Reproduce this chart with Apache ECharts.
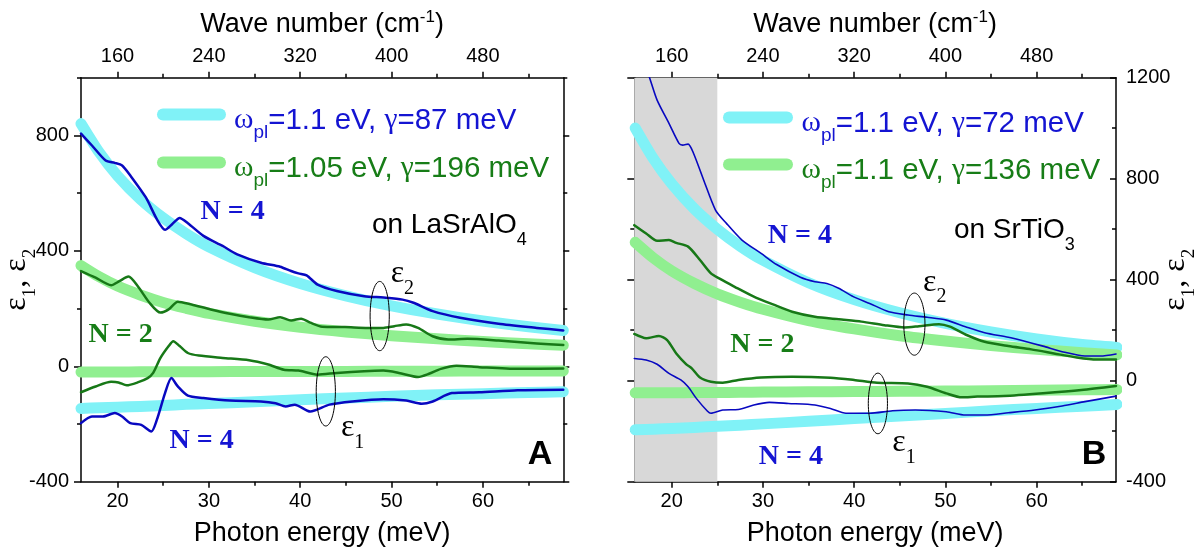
<!DOCTYPE html>
<html><head><meta charset="utf-8">
<script src="https://cdn.jsdelivr.net/npm/echarts@6/dist/echarts.min.js"></script>
<style>html,body{margin:0;padding:0;background:#fff}#c{width:1204px;height:554px}</style>
</head><body><div id="c"></div>
<script>
// ---------------- data ----------------
const xRangeA = [16, 68.8];
const xRangeB = [15.9, 68.7];
const yRangeA = [-400, 1000];
const yRangeB = [-400, 1200];
const xTicksMajor = [20, 30, 40, 50, 60];
const xTicksMinor = [25, 35, 45, 55, 65];
const topTicksMajor = [160, 240, 320, 400, 480];
const topTicksMinor = [200, 280, 360, 440, 520];
const yTicksA = [-400, 0, 400, 800];
const yMinorA = [-200, 200, 600, 1000];
const yTicksB = [-400, 0, 400, 800, 1200];
const yMinorB = [-200, 200, 600, 1000];
const cmPerMeV = 8;
const greyBandB = [15.9, 25];

// Drude-fit bands
const fitX = [16, 18, 20, 22.5, 25, 27.5, 30, 35, 40, 45, 50, 55, 60, 65, 68.8];
const fitA4_e2 = [841, 741, 660, 579, 514, 460, 414, 342, 287, 244, 209, 181, 157, 137, 124];
const fitA4_e1 = [-146, -144, -142, -139, -136, -132, -129, -123, -116, -110, -104, -99, -95, -91, -88];
const fitA2_e2 = [349, 310, 278, 247, 221, 201, 183, 156, 135, 119, 106, 95, 86, 78, 73];
const fitA2_e1 = [-20, -20, -20, -19, -19, -19, -19, -18, -18, -18, -17, -17, -16, -16, -16];
const fitB4_e2 = [1001, 879, 780, 680, 600, 533, 477, 388, 321, 269, 227, 193, 165, 143, 132];
const fitB4_e1 = [-194, -192, -189, -185, -180, -176, -171, -161, -150, -140, -130, -119, -110, -101, -94];
const fitB2_e2 = [548, 486, 435, 385, 344, 311, 283, 238, 205, 178, 157, 139, 124, 111, 102];
const fitB2_e1 = [-48, -48, -48, -47, -47, -46, -45, -44, -43, -42, -41, -40, -38, -36, -35];

// measured curves  [meV, value]
const A_N4_e2 = [[16,806],[17.2,765],[18.7,713],[19.7,705],[20.5,696],[21.4,661],[23.1,585],[24.3,510],[25.2,473],[26.0,493],[26.8,514],[27.7,496],[29.4,452],[31.5,417],[33.1,388],[35.7,359],[37.8,345],[39.0,330],[39.8,322],[40.7,315],[41.9,283],[44.0,261],[47.0,243],[49.1,238],[51.2,231],[52.4,220],[54.5,191],[57.5,168],[61.7,147],[65.9,133],[68.8,124]];
const A_N2_e2 = [[16,330],[17.6,307],[19.3,281],[20.2,295],[21.2,311],[22.2,278],[23.5,220],[24.7,186],[25.6,197],[26.6,224],[28.1,214],[30.2,197],[32.3,182],[34.4,170],[36.5,162],[37.8,170],[39.0,159],[40.1,165],[41.1,151],[42.4,137],[44.9,136],[47.4,133],[49.1,133],[50.3,139],[51.6,145],[52.9,133],[54.5,104],[56.2,93],[58.3,95],[61.7,89],[65.9,79],[68.8,74]];
const A_N2_e1 = [[16,-90],[17.6,-70],[19.3,-54],[20.1,-56],[21.0,-66],[22.2,-56],[23.3,-41],[23.9,-23],[24.7,29],[25.6,70],[26.1,87],[26.8,70],[27.7,46],[28.9,37],[31.5,29],[34.4,21],[36.5,6],[38.2,-12],[39.8,-15],[41.9,-29],[44.0,-23],[47.0,-17],[49.1,-15],[50.8,-23],[52.9,-37],[54.1,-26],[55.4,-9],[57.1,2],[59.6,-3],[63.8,-9],[68.8,-8]];
const A_N4_e1 = [[16,-197],[17.2,-174],[18.4,-174],[19.7,-162],[20.5,-174],[21.4,-197],[22.6,-203],[23.7,-226],[24.3,-186],[25.2,-93],[25.9,-41],[26.6,-70],[27.7,-102],[29.4,-110],[32.3,-119],[35.7,-122],[37.3,-128],[38.4,-139],[39.4,-133],[41.1,-157],[43.2,-133],[45.7,-122],[49.1,-114],[51.6,-119],[53.3,-130],[54.5,-122],[56.6,-93],[59.6,-90],[63.8,-83],[68.8,-81]];
const B_N4_e2 = [[15.9,1380],[17.6,1197],[18.4,1111],[19.7,1019],[20.8,940],[21.2,933],[21.8,937],[22.4,900],[23.5,795],[24.8,676],[26.0,623],[27.7,557],[29.8,504],[31.5,460],[34.1,410],[35.7,392],[37.0,385],[38.3,366],[39.9,333],[41.7,306],[43.8,273],[45.9,260],[48.0,251],[50.1,240],[52.2,214],[54.3,190],[56.9,172],[58.5,158],[60.7,137],[62.8,115],[65.3,98],[67.0,98],[68.7,106]];
const B_N2_e2 = [[15.9,616],[17.2,583],[18.4,554],[19.7,557],[20.5,546],[21.8,531],[23.1,478],[24.3,425],[25.2,405],[26.9,372],[29.0,333],[31.1,302],[33.2,273],[35.7,253],[38.3,243],[40.8,234],[43.3,220],[45.5,211],[47.1,216],[49.3,224],[50.5,214],[52.2,183],[54.3,154],[56.9,137],[59.4,124],[61.9,108],[64.4,92],[66.6,84],[68.7,84]];
const B_N2_e1 = [[15.9,185],[17.2,168],[18.6,177],[19.5,161],[20.5,108],[21.6,65],[22.2,49],[23.1,13],[24.3,-4],[25.6,-8],[27.3,3],[29.8,13],[33.2,16],[37.4,12],[40.0,3],[42.5,-8],[45.9,-11],[48.0,-24],[50.1,-50],[51.8,-66],[53.5,-63],[56.4,-61],[60.7,-50],[64.9,-37],[68.7,-21]];
const B_N4_e1 = [[15.9,88],[17.2,82],[18.4,65],[19.7,29],[21.0,3],[21.8,-24],[22.7,-70],[23.9,-120],[24.3,-129],[25.6,-116],[27.3,-114],[29.0,-96],[30.7,-86],[32.8,-90],[35.7,-96],[37.4,-110],[39.1,-129],[41.7,-129],[44.2,-119],[46.7,-116],[50.1,-123],[52.2,-136],[54.3,-136],[56.9,-127],[59.8,-116],[62.8,-100],[65.3,-83],[68.7,-61]];

// ellipses [x, y, half-width (meV), half-height (value)]
const ellipsesA = [[48.7, 174, 1.05, 120], [42.8, -87, 1.05, 120]];
const ellipsesB = [[46.6, 224, 1.16, 123], [42.6, -90, 1.05, 120]];

// text annotations
const annotA = [
  {x: 32.6, y: 536, t: 'N = 4', kind: 'N', c: 'blue', al: 'center'},
  {x: 47.85, y: 489, t: 'on LaSrAlO{s4|4}', kind: 'sans', c: 'black', al: 'left'},
  {x: 49.9, y: 321, t: 'ε{s|2}', kind: 'eps', c: 'black', al: 'left'},
  {x: 20.34, y: 110, t: 'N = 2', kind: 'N', c: 'green', al: 'center'},
  {x: 44.45, y: -214, t: 'ε{s|1}', kind: 'eps', c: 'black', al: 'left'},
  {x: 29.2, y: -257, t: 'N = 4', kind: 'N', c: 'blue', al: 'center'},
  {x: 66.25, y: -305, t: 'A', kind: 'big', c: 'black', al: 'center'}
];
const annotB = [
  {x: 34.05, y: 573, t: 'N = 4', kind: 'N', c: 'blue', al: 'center'},
  {x: 50.93, y: 597, t: 'on SrTiO{s4|3}', kind: 'sans', c: 'black', al: 'left'},
  {x: 47.55, y: 390, t: 'ε{s|2}', kind: 'eps', c: 'black', al: 'left'},
  {x: 29.93, y: 141, t: 'N = 2', kind: 'N', c: 'green', al: 'center'},
  {x: 44.18, y: -247, t: 'ε{s|1}', kind: 'eps', c: 'black', al: 'left'},
  {x: 33.06, y: -303, t: 'N = 4', kind: 'N', c: 'blue', al: 'center'},
  {x: 66.3, y: -292, t: 'B', kind: 'big', c: 'black', al: 'center'}
];

const legendLabels = {
  fitA4: '{g0|ω}{s|pl}{n|=1.1 eV, }{g|γ}{n|=87 meV}',
  fitA2: '{g0|ω}{s|pl}{n|=1.05 eV, }{g|γ}{n|=196 meV}',
  fitB4: '{g0|ω}{s|pl}{n|=1.1 eV, }{g|γ}{n|=72 meV}',
  fitB2: '{g0|ω}{s|pl}{n|=1.1 eV, }{g|γ}{n|=136 meV}'
};

// ---------------- styles ----------------
const SANS = '"Liberation Sans", Arial, sans-serif';
const SERIF = '"Liberation Serif", "Times New Roman", serif';
const COL = {
  blue: '#1414d2', green: '#177d17', black: '#000',
  lineBlue: '#0808c0', lineGreen: '#177817', cyan: '#80f2f7', lgreen: '#90ef90', grey: '#d8d8d8'
};

const grids = [
  {left: 81, top: 77.7, width: 482.3, height: 404, containLabel: false, outerBoundsMode: 'none'},
  {left: 634.3, top: 77.7, width: 481.7, height: 404, containLabel: false, outerBoundsMode: 'none'}
];

function axis(o) {
  const a = {
    type: 'value', gridIndex: o.g, position: o.pos, min: o.min, max: o.max,
    splitLine: {show: false}, splitArea: {show: false},
    axisLine: {show: !!o.line, onZero: false, lineStyle: {color: '#000', width: 1.5}},
    axisTick: {show: true, customValues: o.ticks, length: o.len, inside: !!o.inside,
               lineStyle: {color: '#000', width: 1.5}},
    axisLabel: o.labels ? {show: true, customValues: o.labels, fontSize: 20, fontFamily: SANS,
                           color: '#000', margin: o.margin || 10, formatter: v => String(v)} : {show: false},
    axisPointer: {show: false},
    nameMoveOverlap: false
  };
  if (o.extra) Object.assign(a, o.extra);
  return a;
}

const nameRichX = {
  n: {fontSize: 27, fontFamily: SANS, lineHeight: 32, color: '#000'},
  u: {fontSize: 17, fontFamily: SANS, lineHeight: 16, padding: [0, 0, 14, 0], color: '#000'}
};
const nameRichY = {
  e: {fontSize: 32, fontFamily: SERIF, lineHeight: 36, color: '#000'},
  s: {fontSize: 19, fontFamily: SERIF, lineHeight: 18, padding: [26, 0, 0, 0], color: '#000'}
};
const topName = {name: '{n|Wave number (cm}{u|-1}{n|)}', nameLocation: 'middle', nameGap: 37,
                 nameTextStyle: {rich: nameRichX}};
const botName = {name: '{n|Photon energy (meV)}', nameLocation: 'middle', nameGap: 36,
                 nameTextStyle: {rich: nameRichX}};
const yName = {name: '{e|ε}{s|1}{e|, ε}{s|2}', nameLocation: 'middle', nameRotate: 90,
               nameTextStyle: {rich: nameRichY}};

const xAxes = [];
const yAxes = [];
[[0, xRangeA], [1, xRangeB]].forEach(([g, xr]) => {
  xAxes.push(axis({g, pos: 'bottom', min: xr[0], max: xr[1], line: true, ticks: xTicksMajor, len: 6,
                   labels: xTicksMajor, margin: 10, extra: botName}));
  xAxes.push(axis({g, pos: 'bottom', min: xr[0], max: xr[1], ticks: xTicksMinor, len: 4}));
  xAxes.push(axis({g, pos: 'top', min: xr[0] * cmPerMeV, max: xr[1] * cmPerMeV, line: true,
                   ticks: topTicksMajor, len: 6, labels: topTicksMajor, margin: 11, extra: topName}));
  xAxes.push(axis({g, pos: 'top', min: xr[0] * cmPerMeV, max: xr[1] * cmPerMeV, ticks: topTicksMinor, len: 4}));
});
// panel A y axes
yAxes.push(axis({g: 0, pos: 'left', min: yRangeA[0], max: yRangeA[1], line: true, ticks: yTicksA, len: 7,
                 labels: yTicksA, margin: 12, extra: Object.assign({nameGap: 46}, yName)}));
yAxes.push(axis({g: 0, pos: 'left', min: yRangeA[0], max: yRangeA[1], ticks: yMinorA, len: 4}));
yAxes.push(axis({g: 0, pos: 'right', min: yRangeA[0], max: yRangeA[1], line: true, ticks: yTicksA, len: 6}));
yAxes.push(axis({g: 0, pos: 'right', min: yRangeA[0], max: yRangeA[1], ticks: yMinorA, len: 4}));
// panel B y axes
yAxes.push(axis({g: 1, pos: 'left', min: yRangeB[0], max: yRangeB[1], line: true, ticks: yTicksB, len: 7}));
yAxes.push(axis({g: 1, pos: 'left', min: yRangeB[0], max: yRangeB[1], ticks: yMinorB, len: 4}));
yAxes.push(axis({g: 1, pos: 'right', min: yRangeB[0], max: yRangeB[1], line: true, ticks: yTicksB, len: 6,
                 inside: true, labels: yTicksB, margin: 10, extra: Object.assign({nameGap: 42}, yName)}));
yAxes.push(axis({g: 1, pos: 'right', min: yRangeB[0], max: yRangeB[1], ticks: yMinorB, len: 4, inside: true}));

const zip = (xs, ys) => xs.map((x, i) => [x, ys[i]]);

function line(name, data, g, color, width, z) {
  return {
    type: 'line', name, data, xAxisIndex: g * 4, yAxisIndex: g * 4, showSymbol: false, symbol: 'none',
    smooth: 0.25, color, lineStyle: {color, width, cap: 'round', join: 'round'}, z, silent: true,
    animation: false, clip: true
  };
}

function ellipseSeries(g, data) {
  return {
    type: 'custom', xAxisIndex: g * 4, yAxisIndex: g * 4, data, z: 5, silent: true, animation: false,
    clip: false,
    renderItem: (params, api) => {
      const c = api.coord([api.value(0), api.value(1)]);
      const s = api.size([api.value(2), api.value(3)]);
      return {type: 'ellipse', shape: {cx: c[0], cy: c[1], rx: s[0], ry: s[1]},
              style: {fill: null, stroke: '#000', lineWidth: 1}};
    }
  };
}

const annRich = {
  s: {fontSize: 20, fontFamily: SERIF, lineHeight: 20, padding: [30, 0, 0, 0]},
  s4: {fontSize: 18, fontFamily: SANS, lineHeight: 18, padding: [30, 0, 0, 0]}
};
function textStyleFor(a) {
  const base = {text: a.t, fill: COL[a.c], align: a.al, verticalAlign: 'middle', rich: annRich};
  if (a.kind === 'N') Object.assign(base, {fontSize: 28, fontFamily: SERIF, fontWeight: 'bold'});
  if (a.kind === 'sans') Object.assign(base, {fontSize: 28, fontFamily: SANS});
  if (a.kind === 'eps') Object.assign(base, {fontSize: 32, fontFamily: SERIF});
  if (a.kind === 'big') Object.assign(base, {fontSize: 34, fontFamily: SANS, fontWeight: 'bold'});
  return base;
}
function textSeries(g, list) {
  return {
    type: 'custom', xAxisIndex: g * 4, yAxisIndex: g * 4, data: list.map(a => [a.x, a.y]), z: 6,
    silent: true, animation: false, clip: false,
    renderItem: (params, api) => {
      const a = list[params.dataIndex];
      const c = api.coord([a.x, a.y]);
      return {type: 'text', x: c[0], y: c[1], style: textStyleFor(a)};
    }
  };
}

const bandSeries = {
  type: 'custom', xAxisIndex: 4, yAxisIndex: 4, data: [greyBandB], z: 1, silent: true, animation: false,
  renderItem: (params, api) => {
    const p0 = api.coord([api.value(0), yRangeB[1]]);
    const p1 = api.coord([api.value(1), yRangeB[0]]);
    return {type: 'rect', shape: {x: p0[0], y: p0[1], width: p1[0] - p0[0], height: p1[1] - p0[1]},
            style: {fill: COL.grey}};
  }
};

const FITW = 11;
const series = [
  bandSeries,
  line('fitA4', zip(fitX, fitA4_e2), 0, COL.cyan, FITW, 2),
  line('fitA4', zip(fitX, fitA4_e1), 0, COL.cyan, FITW, 2),
  line('fitA2', zip(fitX, fitA2_e2), 0, COL.lgreen, FITW, 2),
  line('fitA2', zip(fitX, fitA2_e1), 0, COL.lgreen, FITW, 2),
  line('A N4 e2', A_N4_e2, 0, COL.lineBlue, 2.5, 3),
  line('A N4 e1', A_N4_e1, 0, COL.lineBlue, 2.5, 3),
  line('A N2 e2', A_N2_e2, 0, COL.lineGreen, 2.5, 3),
  line('A N2 e1', A_N2_e1, 0, COL.lineGreen, 2.5, 3),
  line('fitB4', zip(fitX, fitB4_e2), 1, COL.cyan, FITW, 2),
  line('fitB4', zip(fitX, fitB4_e1), 1, COL.cyan, FITW, 2),
  line('fitB2', zip(fitX, fitB2_e2), 1, COL.lgreen, FITW, 2),
  line('fitB2', zip(fitX, fitB2_e1), 1, COL.lgreen, FITW, 2),
  line('B N2 e2', B_N2_e2, 1, COL.lineGreen, 2.5, 3),
  line('B N2 e1', B_N2_e1, 1, COL.lineGreen, 2.5, 3),
  line('B N4 e2', B_N4_e2, 1, COL.lineBlue, 1.6, 3),
  line('B N4 e1', B_N4_e1, 1, COL.lineBlue, 1.6, 3),
  ellipseSeries(0, ellipsesA),
  ellipseSeries(1, ellipsesB),
  textSeries(0, annotA),
  textSeries(1, annotB)
];

const legRich = {
  n: {fontSize: 29.5, fontFamily: SANS, lineHeight: 32, padding: [12, 0, 0, 0]},
  g: {fontSize: 29.5, fontFamily: SERIF, lineHeight: 32, padding: [12, 0, 0, 0]},
  g0: {fontSize: 29.5, fontFamily: SERIF, lineHeight: 32, padding: [12, 0, 0, 3]},
  s: {fontSize: 19, fontFamily: SANS, lineHeight: 18, padding: [36, 0, 0, 0]}
};
const LEG_H = 54;
const ICON = 'path://M6,0H64A6,6,0,0,1,64,12H6A6,6,0,0,1,6,0Z';
function legendFor(name, left, iconY, width, color) {
  return {
    data: [name], left, top: iconY - LEG_H / 2, padding: 0, itemWidth: width, itemHeight: 12,
    icon: ICON, selectedMode: false, itemStyle: {borderWidth: 0},
    formatter: n => legendLabels[n],
    textStyle: {color, rich: legRich, fontSize: 29.5, fontFamily: SANS}
  };
}

const option = {
  backgroundColor: '#fff',
  animation: false,
  grid: grids,
  xAxis: xAxes,
  yAxis: yAxes,
  legend: [
    legendFor('fitA4', 157, 114, 69, COL.blue),
    legendFor('fitA2', 157, 162, 69, COL.green),
    legendFor('fitB4', 723, 117, 71, COL.blue),
    legendFor('fitB2', 723, 164, 71, COL.green)
  ],
  series
};

const chart = echarts.init(document.getElementById('c'));
chart.setOption(option);
</script>
</body></html>
